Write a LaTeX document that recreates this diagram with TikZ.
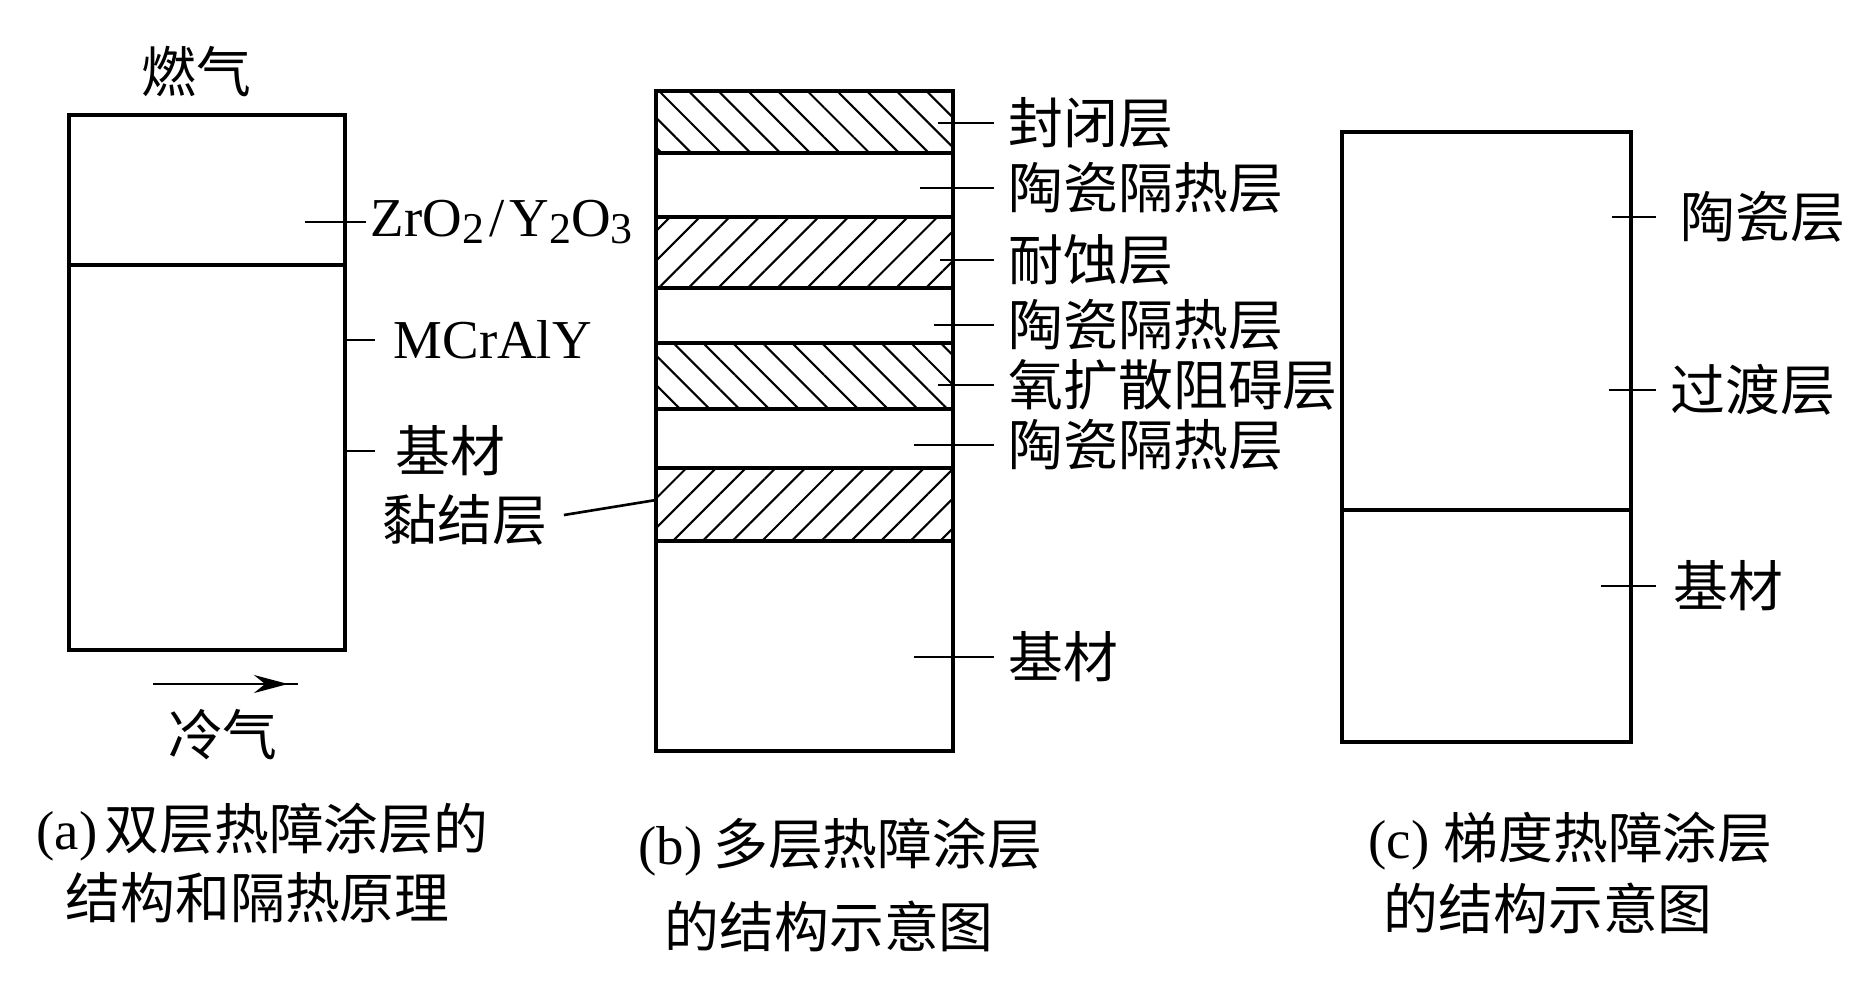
\documentclass[tikz,border=0pt]{standalone}
\usepackage{fontspec}
\setmainfont{Liberation Serif}
\newfontfamily\zh{Noto Sans CJK SC}
\usetikzlibrary{positioning,arrows.meta,calc,patterns.meta}
\newcommand{\sbs}[1]{\raisebox{-0.3ex}{\fontsize{12.5}{14}\selectfont #1}}
\tikzset{
  >={Stealth[length=3.4mm,width=1.8mm]},
  wall/.style={line width=1.2pt},
  tick/.style={line width=0.75pt},
  hatch/.style={pattern={Lines[angle=#1,distance=2.1mm,line width=0.6pt]}},
  zhlbl/.style={anchor=west,inner sep=0pt,font=\fontsize{15.6}{18}\selectfont\zh},
  enlbl/.style={anchor=west,inner sep=0pt,font=\fontsize{15.6}{18}\selectfont},
  capline/.style={anchor=west,inner sep=0pt,font=\fontsize{15.6}{18}\selectfont},
}

\begin{document}
\begin{tikzpicture}[flow/.style={->,line width=0.75pt}]
  \useasboundingbox (0,0) rectangle (18.52,-10.06);
  % ---- panel a: two-layer coating ----
  \begin{scope}
    \node[zhlbl,anchor=center] (hot) at (1.96,-0.71) {燃气};
    \draw[wall] (0.69,-1.15) rectangle (3.45,-6.50);
    \draw[wall] (0.69,-2.65) -- (3.45,-2.65);
    \node[enlbl] (zr) at (3.70,-2.22) {ZrO\sbs{2}\kern1.5pt/\kern1.5pt Y\sbs{2}O\sbs{3}};
    \node[enlbl] (mc) at (3.93,-3.40) {MCrAlY};
    \node[zhlbl] (suba) at (3.95,-4.51) {基材};
    \node[zhlbl] (bond) at (3.82,-5.20) {黏结层};
    \draw[tick] ([xshift=-0.4mm]zr.west) -- ++(-0.61,0);
    \draw[tick] ([xshift=-1.8mm]mc.west) -- ++(-0.29,0);
    \draw[tick] ([xshift=-2mm]suba.west) -- ++(-0.29,0);
    \coordinate (bondpt) at (6.56,-5.00);
    \draw[tick] ([shift={(0.16,0.05)}]bond.east) -- (bondpt);
    \coordinate (cold0) at (1.53,-6.84);
    \coordinate (cold1) at (2.98,-6.84);
    \draw[tick] (cold0) -- (cold1);
    \draw[flow] (cold0) -- ([xshift=-1mm]cold1);
    \node[zhlbl,anchor=center] (cold) at (2.23,-7.35) {冷气};
    \node[capline] (capa1) at (0.36,-8.32) {(a)\hspace{2pt}{\zh 双层热障涂层的}};
    \node[capline] (capa2) at (0.65,-8.98) {\zh 结构和隔热原理};
  \end{scope}
  % ---- panel b: multilayer coating ----
  \begin{scope}
    \foreach \ya/\yb/\ang in {0.91/1.53/-45,2.17/2.88/45,3.43/4.09/-45,4.68/5.41/45}
      \draw[wall,hatch=\ang] (6.56,-\ya) rectangle (9.53,-\yb);
    \foreach \yy in {1.53,2.17,2.88,3.43,4.09,4.68,5.41}
      \draw[wall] (6.56,-\yy) -- (9.53,-\yy);
    \draw[wall] (6.56,-0.91) rectangle (9.53,-7.51);
    \foreach \yy/\txt/\len [count=\i] in {1.23/封闭层/0.56,1.88/陶瓷隔热层/0.74,
        2.60/耐蚀层/0.54,3.25/陶瓷隔热层/0.60,3.85/氧扩散阻碍层/0.56,
        4.45/陶瓷隔热层/0.80,6.57/基材/0.80} {
      \node[zhlbl] (b\i) at (10.08,-\yy) {\txt};
      \draw[tick] ([xshift=-1.4mm]b\i.west) -- ++(-\len,0);
    }
    \node[capline] (capb1) at (6.38,-8.47) {(b)\hspace{3pt}{\zh 多层热障涂层}};
    \node[capline] (capb2) at (6.64,-9.26) {\zh 的结构示意图};
  \end{scope}
  % ---- panel c: graded coating ----
  \begin{scope}
    \draw[wall] (13.42,-1.32) rectangle (16.31,-7.42);
    \draw[wall] (13.42,-5.10) -- (16.31,-5.10);
    \foreach \yy/\xx/\txt/\gap/\len [count=\i] in {2.17/16.80/陶瓷层/2.4mm/0.44,
        3.90/16.70/过渡层/1.4mm/0.47,5.86/16.73/基材/1.7mm/0.55} {
      \node[zhlbl] (c\i) at (\xx,-\yy) {\txt};
      \draw[tick] ([xshift=-\gap]c\i.west) -- ++(-\len,0);
    }
    \node[capline] (capc1) at (13.68,-8.41) {(c)\hspace{4pt}{\zh 梯度热障涂层}};
    \node[capline] (capc2) at (13.83,-9.08) {\zh 的结构示意图};
  \end{scope}
\end{tikzpicture}
\end{document}
